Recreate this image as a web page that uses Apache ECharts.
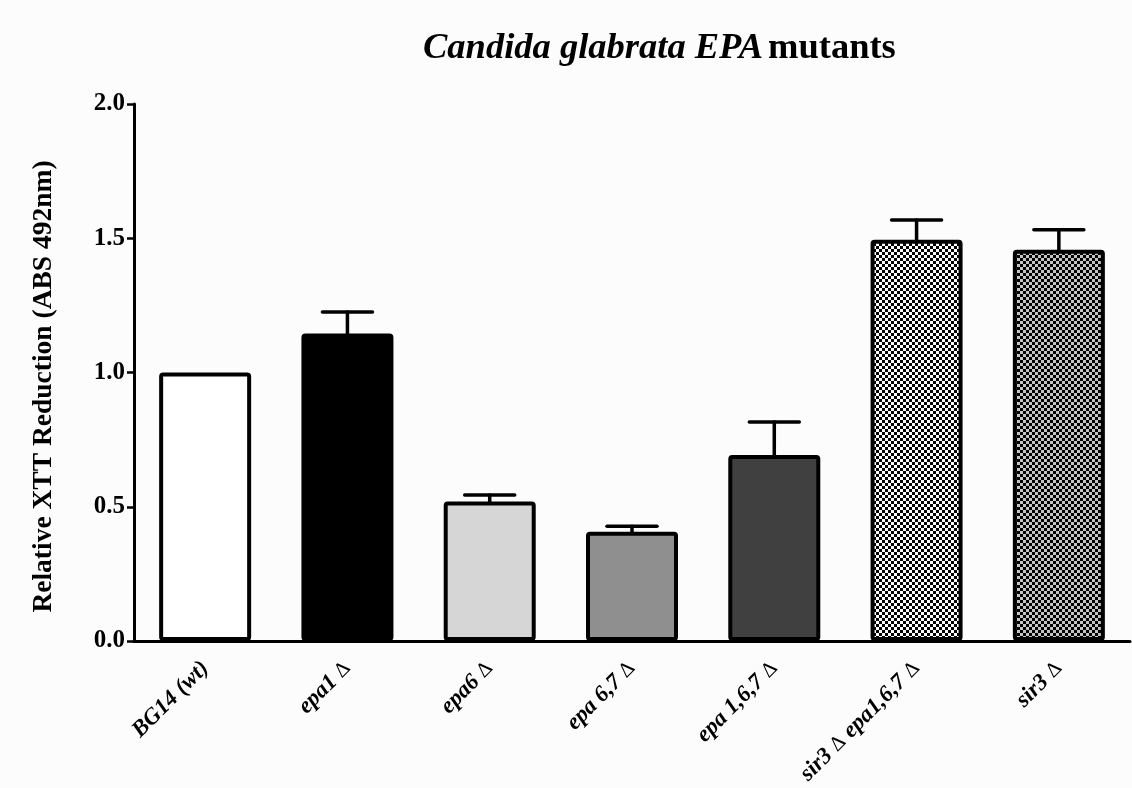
<!DOCTYPE html>
<html>
<head>
<meta charset="utf-8">
<title>Candida glabrata EPA mutants</title>
<script src="https://cdn.jsdelivr.net/npm/echarts@6/dist/echarts.min.js"></script>
<style>
  html, body { margin: 0; padding: 0; background: #fcfcfc; }
  #chart { width: 1132px; height: 788px; }
</style>
</head>
<body>
<div id="chart"></div>
<script>
// Strains (x categories)
const categories = ['BG14 (wt)', 'epa1 Δ', 'epa6 Δ', 'epa 6,7 Δ', 'epa 1,6,7 Δ', 'sir3 Δ epa1,6,7 Δ', 'sir3 Δ'];
// Mean relative XTT reduction
const meanValues = [1.0, 1.145, 0.52, 0.407, 0.693, 1.494, 1.457];
// Upper error (SEM)
const semValues = [0, 0.08, 0.024, 0.02, 0.123, 0.074, 0.075];
// Value axis ticks
const yTicks = [0.0, 0.5, 1.0, 1.5, 2.0];

const SERIF = '"Liberation Serif", "Times New Roman", serif';

// checkerboard fill used for the sir3 strains
function checker(cell, dark, light) {
  const c = document.createElement('canvas');
  c.width = cell * 2; c.height = cell * 2;
  const g = c.getContext('2d');
  g.fillStyle = light; g.fillRect(0, 0, cell * 2, cell * 2);
  g.fillStyle = dark;
  g.fillRect(0, 0, cell, cell);
  g.fillRect(cell, cell, cell, cell);
  return { image: c, repeat: 'repeat' };
}

const fills = [
  '#ffffff',
  '#000000',
  '#d6d6d6',
  '#8f8f8f',
  '#404040',
  checker(3, '#000000', '#ffffff'),
  checker(3, '#000000', '#c4c4c4')
];

const chart = echarts.init(document.getElementById('chart'), null, { renderer: 'canvas' });

const option = {
  backgroundColor: '#fcfcfc',
  animation: false,
  title: {
    text: '{i|Candida glabrata EPA} {b|mutants}',
    left: 418,
    top: 25,
    textStyle: {
      rich: {
        i: { fontFamily: SERIF, fontSize: 36.5, fontWeight: 'bold', fontStyle: 'italic', color: '#000' },
        b: { fontFamily: SERIF, fontSize: 36.5, fontWeight: 'bold', color: '#000' }
      }
    }
  },
  grid: { left: 134, right: 2, top: 104, bottom: 147 },
  xAxis: {
    type: 'category',
    data: categories,
    boundaryGap: true,
    axisLine: { lineStyle: { color: '#000', width: 3 } },
    axisTick: { alignWithLabel: true, length: 7, lineStyle: { color: '#000', width: 2.5 } },
    axisLabel: {
      interval: 0,
      rotate: 45,
      margin: 24,
      formatter: function (v) {
        return v.split('Δ').map(function (s) { return s ? '{t|' + s + '}' : ''; }).join('{d|Δ}');
      },
      rich: {
        t: { fontFamily: SERIF, fontSize: 23, fontWeight: 'bold', fontStyle: 'italic', color: '#000' },
        d: { fontFamily: SERIF, fontSize: 21, fontWeight: 'normal', fontStyle: 'normal', color: '#000' }
      }
    }
  },
  yAxis: {
    type: 'value',
    min: yTicks[0],
    max: yTicks[yTicks.length - 1],
    interval: yTicks[1] - yTicks[0],
    name: 'Relative XTT Reduction (ABS 492nm)',
    nameLocation: 'middle',
    nameGap: 76,
    nameTextStyle: {
      fontFamily: SERIF, fontSize: 27.5, fontWeight: 'bold', color: '#000',
      padding: [0, 28, 0, 0]
    },
    axisLine: { show: true, lineStyle: { color: '#000', width: 3 } },
    axisTick: { show: true, length: 7, lineStyle: { color: '#000', width: 2.5 } },
    axisLabel: {
      margin: 9,
      fontFamily: SERIF, fontSize: 25, fontWeight: 'bold', color: '#000',
      formatter: function (v) { return v.toFixed(1); }
    },
    splitLine: { show: false }
  },
  series: [
    {
      type: 'bar',
      barWidth: 92,
      data: meanValues.map(function (v, i) {
        return {
          value: v,
          itemStyle: { color: fills[i], borderColor: '#000', borderWidth: 4, borderRadius: 2 }
        };
      }),
      z: 2
    },
    {
      type: 'custom',
      z: 3,
      data: meanValues.map(function (v, i) { return [i, v, semValues[i]]; }),
      renderItem: function (params, api) {
        const err = api.value(2);
        if (!err) return null;
        const base = api.coord([api.value(0), api.value(1)]);
        const top = api.coord([api.value(0), api.value(1) + err]);
        const half = 25;
        const style = { stroke: '#000', lineWidth: 3.5, lineCap: 'round' };
        return {
          type: 'group',
          children: [
            { type: 'line', shape: { x1: base[0], y1: base[1], x2: top[0], y2: top[1] }, style: style },
            { type: 'line', shape: { x1: top[0] - half, y1: top[1], x2: top[0] + half, y2: top[1] }, style: style }
          ]
        };
      }
    }
  ]
};

chart.setOption(option);
</script>
</body>
</html>
